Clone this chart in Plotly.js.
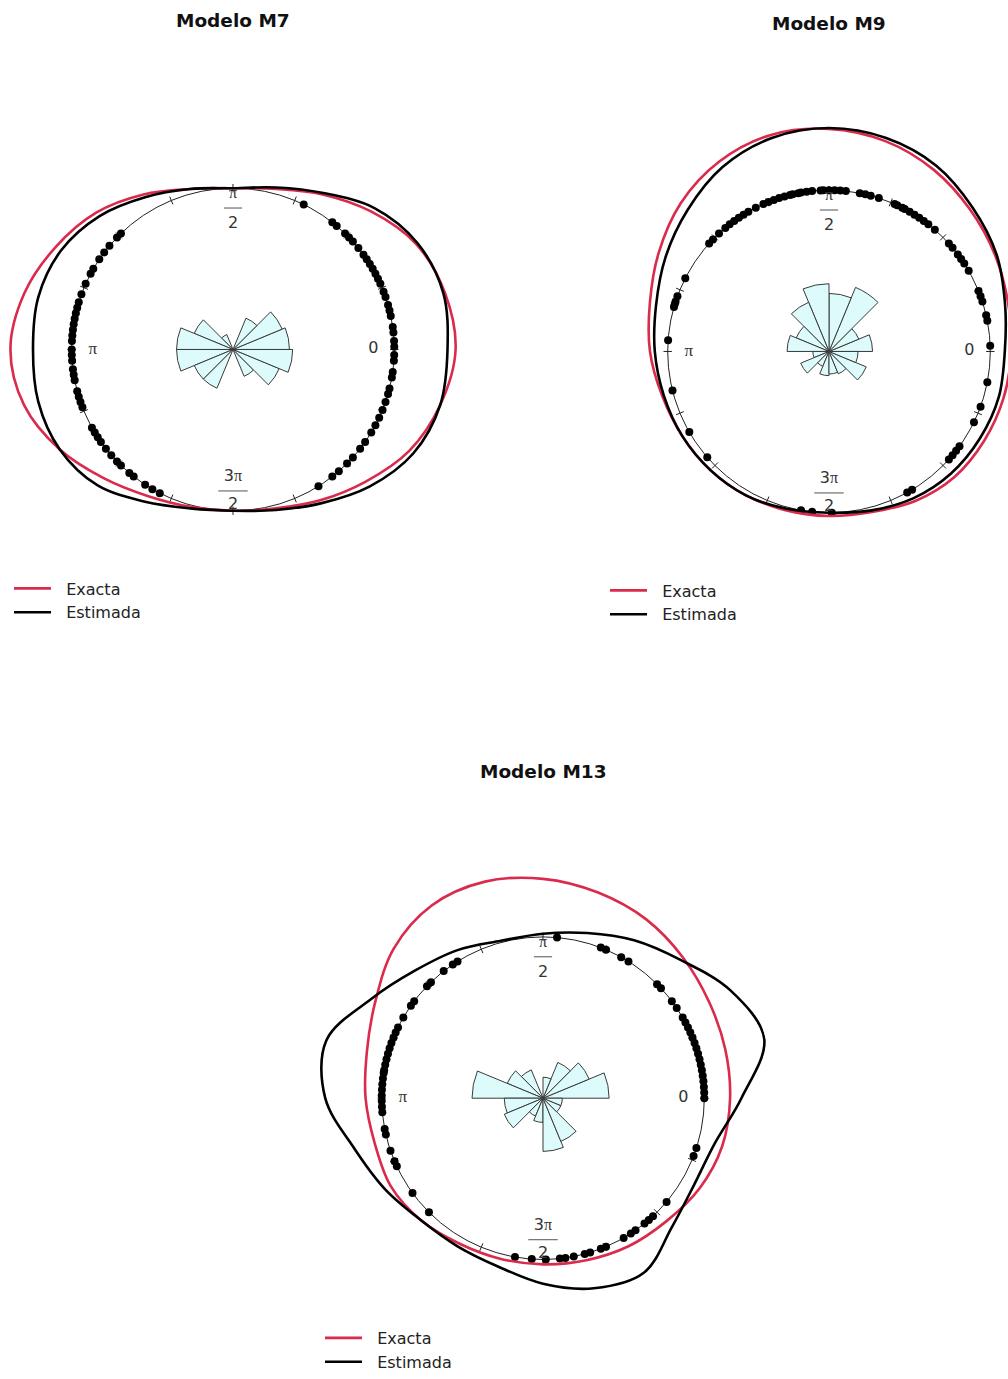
<!DOCTYPE html>
<html>
<head>
<meta charset="utf-8">
<script src="https://cdn.plot.ly/plotly-3.0.1.min.js"></script>
<style>
  html, body { margin: 0; padding: 0; background: #ffffff; overflow: hidden; }
  #chart { width: 1120px; height: 1379px; }
</style>
</head>
<body>
<div id="chart"></div>
<script>
// Angles (degrees) at which the circular densities are evaluated
const densityAngles = [0, 15, 30, 45, 60, 75, 90, 105, 120, 135, 150, 165,
                       180, 195, 210, 225, 240, 255, 270, 285, 300, 315, 330, 345];

// Density curves drawn as radius = 1 + density (unit circle = zero density)
const m7Exacta   = [1.38, 1.36, 1.31, 1.21, 1.11, 1.03, 1.00, 1.03, 1.11, 1.20, 1.27, 1.34,
                    1.38, 1.34, 1.24, 1.13, 1.05, 1.01, 1.00, 1.02, 1.08, 1.16, 1.26, 1.33];
const m7Estimada = [1.33, 1.35, 1.32, 1.24, 1.12, 1.04, 1.00, 1.03, 1.09, 1.17, 1.23, 1.25,
                    1.24, 1.25, 1.24, 1.19, 1.09, 1.02, 1.00, 1.03, 1.10, 1.20, 1.29, 1.33];

const m9Exacta   = [1.13, 1.15, 1.19, 1.24, 1.30, 1.35, 1.38, 1.39, 1.36, 1.30, 1.22, 1.15,
                    1.11, 1.07, 1.05, 1.04, 1.03, 1.02, 1.02, 1.03, 1.07, 1.10, 1.11, 1.12];
const m9Estimada = [1.09, 1.13, 1.20, 1.26, 1.33, 1.37, 1.385, 1.37, 1.32, 1.24, 1.17, 1.11,
                    1.08, 1.06, 1.05, 1.04, 1.03, 1.01, 1.00, 1.02, 1.05, 1.07, 1.08, 1.09];

const m13Exacta   = [1.16, 1.17, 1.19, 1.23, 1.28, 1.32, 1.36, 1.39, 1.38, 1.31, 1.20, 1.13,
                     1.10, 1.08, 1.09, 1.07, 1.04, 1.03, 1.03, 1.04, 1.06, 1.08, 1.12, 1.15];
const m13Estimada = [1.23, 1.42, 1.34, 1.21, 1.13, 1.06, 1.02, 1.01, 1.06, 1.12, 1.23, 1.39,
                     1.35, 1.21, 1.13, 1.07, 1.06, 1.08, 1.15, 1.22, 1.25, 1.13, 1.08, 1.10];

// Observed directions (degrees), plotted on the unit circle
const m7Obs = [64, 52, 50, 46, 44, 42, 39, 36, 34, 32, 30, 28, 26, 24, 21, 19, 16, 14, 12, 8, 6, 3, 1,
               -2, -4, -8, -10, -14, -16, -19, -22, -25, -28, -31, -35, -38, -42, -45, -49, -52, -58,
               134, 136, 140, 143, 146, 150, 152, 156, 160, 163, 165, 167, 169, 171, 173, 175, 177,
               180, 182, 184, 187, 189, 191, 195, 197, 199, 201, 209, 211, 213, 215, 218, 221, 224,
               226, 230, 232, 237, 240, 243];
const m9Obs = [2, 11, 13, 18, 20, 22, 30, 33, 35, 37, 40, 42, 49, 52, 54, 56, 58, 60, 62, 63, 65, 66,
               72, 75, 77, 79, 84, 86, 88, 90, 92, 93, 96, 98, 100, 101, 103, 104, 106, 108, 110, 112,
               114, 117, 120, 122, 124, 126, 128, 130, 133, 136, 138, 153, 160, 162, 163, 164, 176,
               194, 210, 221, 260, 264, 271, 299, 301, 318, 320, 322, 324, 334, 340, 349];
const m13Obs = [85, 69, 67, 61, 58, 45, 43, 37, 34, 30, 28, 26, 24, 22, 20, 18, 16, 14, 12, 10, 8, 6,
                4, 2, 0, 342, 339, 320, 313, 311, 309, 305, 303, 300, 293, 291, 287, 285, 281, 278,
                276, 271, 266, 260, 225, 216, 205, 203, 199, 193, 191, 185, 183, 181, 179, 177, 175,
                173, 171, 170, 168, 166, 164, 162, 160, 158, 156, 154, 150, 145, 143, 136, 134, 128,
                124, 122];

// Rose diagrams: 16 classes of 22.5 degrees (class centres) and bar radii
const roseCenters = [11.25, 33.75, 56.25, 78.75, 101.25, 123.75, 146.25, 168.75,
                     191.25, 213.75, 236.25, 258.75, 281.25, 303.75, 326.25, 348.75];
const m7Rose  = [0.35, 0.33, 0.21, 0, 0, 0.10, 0.26, 0.35, 0.35, 0.26, 0.26, 0, 0, 0.18, 0.31, 0.37];
const m9Rose  = [0.27, 0.20, 0.43, 0.36, 0.42, 0.33, 0.22, 0.26, 0.10, 0.19, 0.10, 0.15, 0.14, 0.15, 0.25, 0.18];
const m13Rose = [0.41, 0.31, 0.24, 0.13, 0, 0.19, 0.24, 0.44, 0.24, 0.26, 0.12, 0.15, 0.33, 0.29, 0.12, 0.12];

// Tick positions on the unit circle (every pi/8)
const tickAngles = [0, 22.5, 45, 67.5, 90, 112.5, 135, 157.5, 180, 202.5, 225, 247.5,
                    270, 292.5, 315, 337.5];

// Axis labels
const PI = '<span style="font-family:\'Liberation Serif\'">π</span>';
const sideLabels = ['0', PI];
const sideAngles = [0, 180];
const numerators = [PI, '3' + PI];
const denominators = ['2', '2'];
const fractionAngles = [90, 270];

const titles = ['Modelo M7', 'Modelo M9', 'Modelo M13'];
const seriesNames = ['\u00a0\u00a0Exacta', '\u00a0\u00a0Estimada'];

const RED = '#DA2B4C';
const INK = '#222222';
const LABEL = '#333333';
const SANS = 'DejaVu Sans';

function closeLoop(a) { return a.concat([a[0]]); }
const loopTheta = densityAngles.concat([360]);

function panelTraces(subplot, legendId, exacta, estimada, obs, rose) {
  const quiet = { subplot: subplot, showlegend: false, hoverinfo: 'skip', cliponaxis: false };
  return [
    { type: 'barpolar', subplot: subplot, r: rose, theta: roseCenters, width: 22.5,
      marker: { color: '#DDFBFB', line: { color: '#3a3a3a', width: 1 } },
      showlegend: false, hoverinfo: 'skip' },
    // short radial ticks on the unit circle
    Object.assign({ type: 'scatterpolar', mode: 'markers', r: tickAngles.map(() => 1), theta: tickAngles,
      marker: { symbol: 'line-ew', size: 6, angle: tickAngles.map(a => -a),
                color: INK, line: { color: INK, width: 1 } } }, quiet),
    Object.assign({ type: 'scatterpolar', mode: 'markers', r: obs.map(() => 1), theta: obs,
      marker: { size: 8, color: '#000000' } }, quiet),
    { type: 'scatterpolar', subplot: subplot, mode: 'lines', name: seriesNames[0], legend: legendId,
      r: closeLoop(exacta), theta: loopTheta, hoverinfo: 'skip',
      line: { color: RED, width: 2.6, shape: 'spline', smoothing: 1 } },
    { type: 'scatterpolar', subplot: subplot, mode: 'lines', name: seriesNames[1], legend: legendId,
      r: closeLoop(estimada), theta: loopTheta, hoverinfo: 'skip',
      line: { color: '#000000', width: 2.6, shape: 'spline', smoothing: 1 } },
    // 0 and pi
    Object.assign({ type: 'scatterpolar', mode: 'text', r: [0.87, 0.87], theta: sideAngles,
      text: sideLabels, textfont: { family: SANS, size: [16, 17], color: LABEL } }, quiet),
    // pi/2 and 3pi/2 written as stacked fractions
    Object.assign({ type: 'scatterpolar', mode: 'text', r: [0.963, 0.792], theta: fractionAngles,
      text: numerators, textfont: { family: SANS, size: 16, color: LABEL } }, quiet),
    Object.assign({ type: 'scatterpolar', mode: 'markers', r: [0.877, 0.877], theta: fractionAngles,
      marker: { symbol: 'line-ew', size: [13, 21], color: LABEL, line: { color: LABEL, width: 1.2 } } }, quiet),
    Object.assign({ type: 'scatterpolar', mode: 'text', r: [0.775, 0.965], theta: fractionAngles,
      text: denominators, textfont: { family: SANS, size: 16, color: LABEL } }, quiet)
  ];
}

const data = [].concat(
  panelTraces('polar', 'legend', m7Exacta, m7Estimada, m7Obs, m7Rose),
  panelTraces('polar2', 'legend2', m9Exacta, m9Estimada, m9Obs, m9Rose),
  panelTraces('polar3', 'legend3', m13Exacta, m13Estimada, m13Obs, m13Rose)
);

// Paper is wider than the window so the right-hand panel runs off the edge.
const W = 1120, H = 1379;
const UNIT = 162;          // pixels per unit radius
const RMAX = 1.43;         // radial extent of each polar subplot
function polarAt(cx, cy) {
  const R = UNIT * RMAX;
  return {
    domain: { x: [(cx - R) / W, (cx + R) / W], y: [1 - (cy + R) / H, 1 - (cy - R) / H] },
    bgcolor: 'rgba(0,0,0,0)',
    radialaxis: {
      range: [0, RMAX], tickmode: 'array', tickvals: [1],
      showticklabels: false, ticks: '', showline: false,
      showgrid: true, gridcolor: INK, gridwidth: 1, layer: 'below traces'
    },
    angularaxis: {
      rotation: 0, direction: 'counterclockwise',
      showgrid: false, showticklabels: false, showline: false, ticks: ''
    }
  };
}

function legendAt(px, py) {
  return {
    x: px / W, y: 1 - py / H, xanchor: 'left', yanchor: 'top',
    bgcolor: 'rgba(0,0,0,0)', borderwidth: 0, itemwidth: 37, traceorder: 'normal',
    font: { family: SANS, size: 16, color: '#222' }
  };
}

function titleAt(text, px, py) {
  return {
    text: '<b>' + text + '</b>', xref: 'paper', yref: 'paper',
    x: px / W, y: 1 - py / H, xanchor: 'center', yanchor: 'middle', showarrow: false,
    font: { family: SANS, size: 18.5, color: '#111' }
  };
}

const layout = {
  width: W, height: H,
  margin: { l: 0, r: 0, t: 0, b: 0 },
  paper_bgcolor: '#ffffff',
  showlegend: true,
  polar: polarAt(233, 351),
  polar2: polarAt(829, 353),
  polar3: polarAt(543, 1103),
  legend: legendAt(9, 574),
  legend2: legendAt(605, 576),
  legend3: legendAt(320, 1327),
  annotations: [
    titleAt(titles[0], 233, 21),
    titleAt(titles[1], 829, 24),
    titleAt(titles[2], 543, 775)
  ]
};

Plotly.newPlot('chart', data, layout, { displayModeBar: false, staticPlot: true });
</script>
</body>
</html>
